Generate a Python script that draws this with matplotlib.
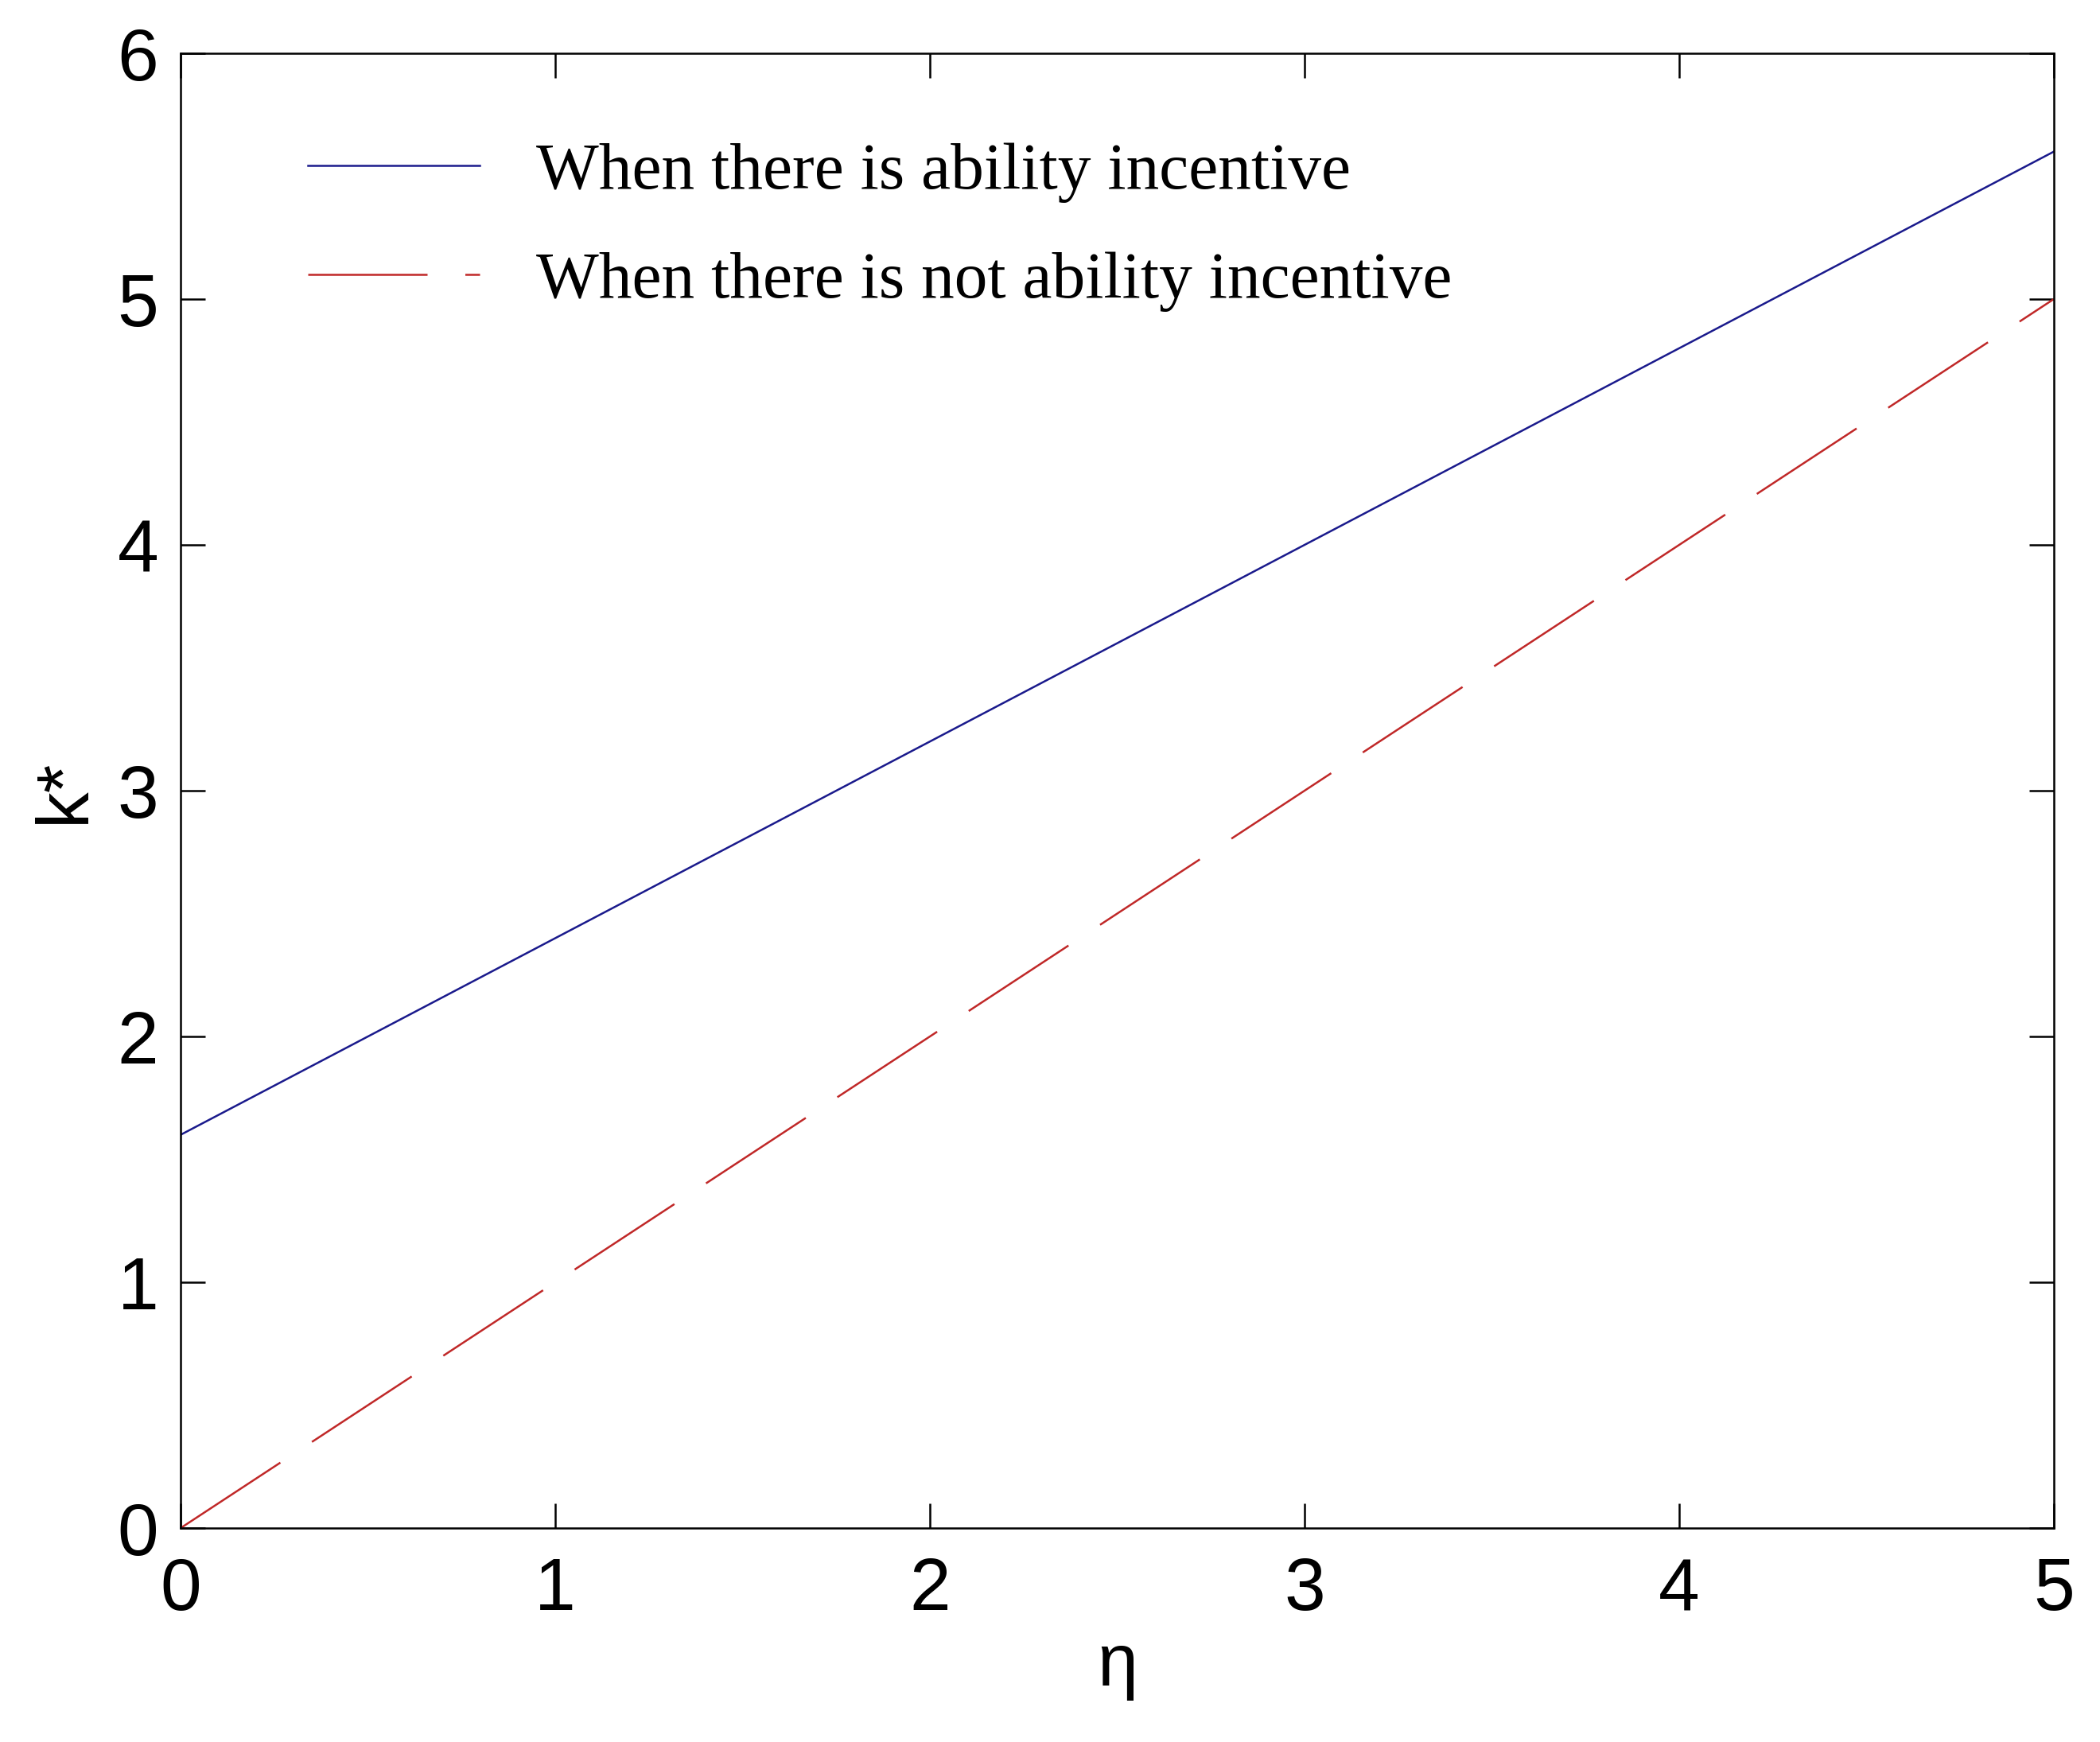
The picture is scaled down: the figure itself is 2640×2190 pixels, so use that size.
import matplotlib
matplotlib.use("Agg")
import matplotlib.pyplot as plt

# data
eta = [0, 1, 2, 3, 4, 5]
k_with = [1.6, 2.4, 3.2, 4.0, 4.8, 5.6]
k_without = [0, 1, 2, 3, 4, 5]
x_ticks = [0, 1, 2, 3, 4, 5]
y_ticks = [0, 1, 2, 3, 4, 5, 6]
labels = ["When there is ability incentive", "When there is not ability incentive"]

plt.rcParams['font.family'] = ['Liberation Sans', 'DejaVu Sans']

fig = plt.figure(figsize=(26.4, 21.9), dpi=100)
ax = fig.add_axes([0.086, 0.1228, 0.892, 0.8466])

ax.plot(eta, k_with, color='#1a1a8c', lw=1.8, label=labels[0])
ax.plot(eta, k_without, color='#c02828', lw=1.8, dashes=(60, 19), label=labels[1])

ax.set_xlim(0, 5)
ax.set_ylim(0, 6)
ax.set_xticks(x_ticks)
ax.set_yticks(y_ticks)
ax.tick_params(direction='in', length=22, width=1.8, labelsize=67,
               top=True, right=True, pad=20)
ax.tick_params(axis='x', pad=26)
for s in ax.spines.values():
    s.set_linewidth(1.8)

ax.set_xlabel("η", fontsize=66, labelpad=6)
ax.set_ylabel("k*", fontsize=66, labelpad=16)

leg = ax.legend(loc='upper left', bbox_to_anchor=(0.036, 0.98), frameon=False,
                prop={'family': 'Liberation Serif', 'size': 60},
                handlelength=2.6, handletextpad=0.85, labelspacing=0.72)

fig.savefig("out.png", dpi=100)
